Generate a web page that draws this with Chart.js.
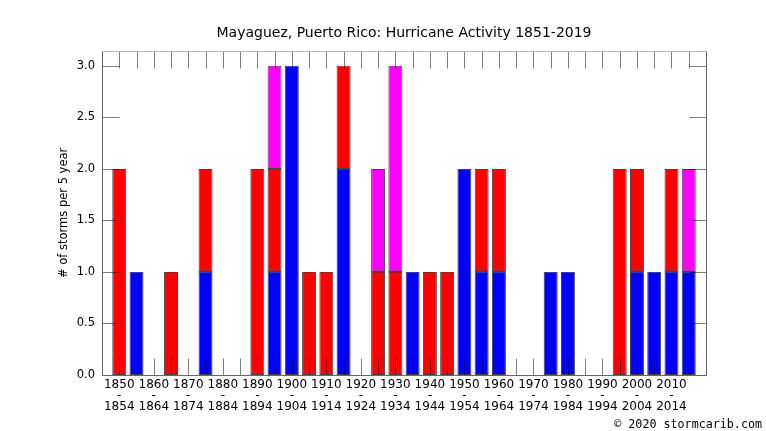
<!DOCTYPE html>
<html>
<head>
<meta charset="utf-8">
<script src="https://cdn.jsdelivr.net/npm/chart.js@4/dist/chart.umd.min.js"></script>
<style>
  html, body { margin: 0; padding: 0; background: #fff; }
  #wrap { position: relative; width: 766px; height: 431px; }
</style>
</head>
<body>
<div id="wrap"><canvas id="chart"></canvas></div>
<script>
// ================= DATA =================
const periods = [
  "1850-1854", "1855-1859", "1860-1864", "1865-1869", "1870-1874", "1875-1879",
  "1880-1884", "1885-1889", "1890-1894", "1895-1899", "1900-1904", "1905-1909",
  "1910-1914", "1915-1919", "1920-1924", "1925-1929", "1930-1934", "1935-1939",
  "1940-1944", "1945-1949", "1950-1954", "1955-1959", "1960-1964", "1965-1969",
  "1970-1974", "1975-1979", "1980-1984", "1985-1989", "1990-1994", "1995-1999",
  "2000-2004", "2005-2009", "2010-2014", "2015-2019"
];
// stacked bottom to top: blue, red, magenta
const blueCounts    = [0,1,0,0,0,1,0,0,0,1,3,0,0,2,0,0,0,1,0,0,2,1,1,0,0,1,1,0,0,0,1,1,1,1];
const redCounts     = [2,0,0,1,0,1,0,0,2,1,0,1,1,1,0,1,1,0,1,1,0,1,1,0,0,0,0,0,0,2,1,0,1,0];
const magentaCounts = [0,0,0,0,0,0,0,0,0,1,0,0,0,0,0,1,2,0,0,0,0,0,0,0,0,0,0,0,0,0,0,0,0,1];
const yTicks = [0, 0.5, 1, 1.5, 2, 2.5, 3];

const FONT = "'DejaVu Sans', 'Liberation Sans', sans-serif";

function toPoints(values) {
  return values.map((v, i) => ({ x: i, y: v || null }));
}

function makeSet(label, values, color) {
  return {
    label: label,
    data: toPoints(values),
    backgroundColor: color,
    borderColor: "#444",
    borderWidth: 1,
    borderSkipped: false,
    barPercentage: 0.81,
    categoryPercentage: 1
  };
}

// ================= FRAME + INNER TICKS =================
const frameTicks = {
  id: "frameTicks",
  afterDatasetsDraw(chart) {
    const { ctx, chartArea: a, scales: { x, y } } = chart;
    const len = 17;
    const L = Math.round(a.left) + 0.5, R = Math.round(a.right) + 0.5;
    const T = Math.round(a.top) + 0.5, B = Math.round(a.bottom) + 0.5;
    ctx.save();
    ctx.lineWidth = 1;
    ctx.strokeStyle = "rgba(0,0,0,0.5)";
    ctx.beginPath();
    x.ticks.forEach(t => {
      const px = Math.round(x.getPixelForValue(t.value)) + 0.5;
      ctx.moveTo(px, B); ctx.lineTo(px, B - len);
      ctx.moveTo(px, T); ctx.lineTo(px, T + len);
    });
    y.ticks.forEach(t => {
      const py = Math.round(y.getPixelForValue(t.value)) + 0.5;
      ctx.moveTo(L, py); ctx.lineTo(L + len, py);
      ctx.moveTo(R, py); ctx.lineTo(R - len, py);
    });
    ctx.stroke();

    ctx.strokeStyle = "#bbb";
    ctx.beginPath();
    ctx.moveTo(L, T); ctx.lineTo(R, T);
    ctx.stroke();
    ctx.strokeStyle = "#666";
    ctx.beginPath();
    ctx.moveTo(L, T); ctx.lineTo(L, B); ctx.lineTo(R, B); ctx.lineTo(R, T);
    ctx.stroke();
    ctx.restore();
  },
  afterDraw(chart) {
    const ctx = chart.ctx;
    ctx.save();
    ctx.font = "11.7px 'DejaVu Sans Mono', monospace";
    ctx.fillStyle = "#000";
    ctx.textAlign = "right";
    ctx.textBaseline = "middle";
    ctx.fillText("\u00a9 2020 stormcarib.com", 762, 424.5);
    ctx.restore();
  }
};

// ================= CHART =================
new Chart(document.getElementById("chart"), {
  type: "bar",
  data: {
    datasets: [
      makeSet("blue", blueCounts, "#0000ff"),
      makeSet("red", redCounts, "#ff0000"),
      makeSet("magenta", magentaCounts, "#ff00ff")
    ]
  },
  options: {
    responsive: true,
    maintainAspectRatio: false,
    animation: false,
    layout: { padding: { left: 0, right: 60, top: 0, bottom: 0 } },
    plugins: {
      legend: { display: false },
      tooltip: { enabled: false },
      title: {
        display: true,
        text: "Mayaguez, Puerto Rico: Hurricane Activity 1851-2019",
        fullSize: false,
        color: "#000",
        font: { family: FONT, size: 14, weight: "normal", lineHeight: 1.2 },
        padding: { top: 25, bottom: 9 }
      }
    },
    scales: {
      x: {
        type: "linear",
        offset: false,
        stacked: true,
        min: -1,
        max: periods.length,
        grid: { display: false, drawTicks: false },
        border: { display: false },
        afterBuildTicks: s => { s.ticks = periods.map((p, i) => ({ value: i })); },
        afterFit: s => { s.height = 56; },
        ticks: {
          autoSkip: false,
          maxRotation: 0,
          padding: 4,
          color: "#000",
          font: { family: FONT, size: 12, lineHeight: 0.92 },
          callback: v => {
            if (v % 2 !== 0) return "";
            const parts = periods[v].split("-");
            return [parts[0], "-", parts[1]];
          }
        }
      },
      y: {
        stacked: true,
        min: 0,
        max: 3.146,
        grid: { display: false, drawTicks: false },
        border: { display: false },
        afterBuildTicks: s => { s.ticks = yTicks.map(v => ({ value: v })); },
        afterFit: s => { s.width = 102; },
        ticks: {
          padding: 7,
          color: "#000",
          font: { family: FONT, size: 11.5 },
          callback: v => Number(v).toFixed(1)
        },
        title: {
          display: true,
          text: "# of storms per 5 year",
          color: "#000",
          font: { family: FONT, size: 11.5, lineHeight: 1.2 },
          padding: { top: 57, bottom: 0 }
        }
      }
    }
  },
  plugins: [frameTicks]
});
</script>
</body>
</html>
